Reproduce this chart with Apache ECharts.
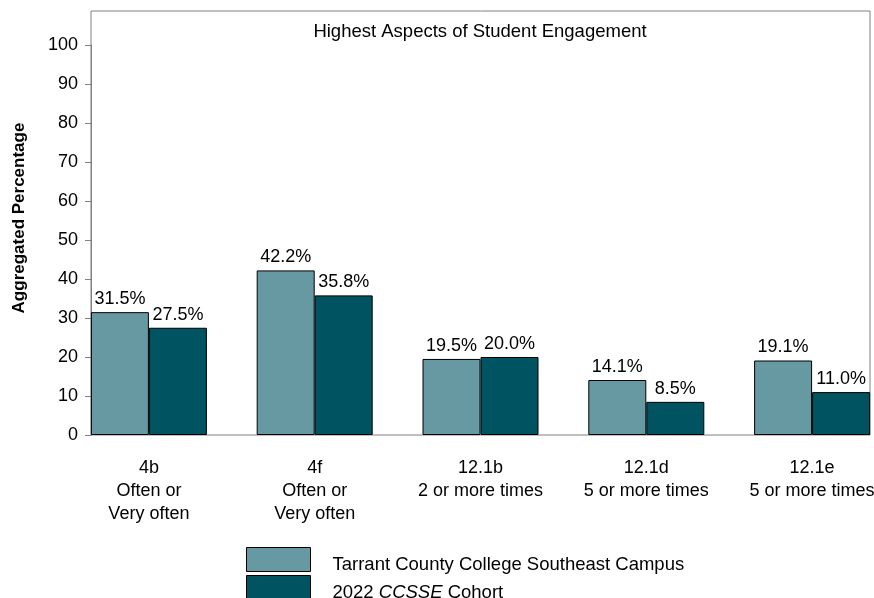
<!DOCTYPE html>
<html>
<head>
<meta charset="utf-8">
<script src="https://cdn.jsdelivr.net/npm/echarts@6/dist/echarts.min.js"></script>
<style>html,body{margin:0;padding:0;background:#fff}#c{width:874px;height:598px}</style>
</head>
<body>
<div id="c"></div>
<script>
var categories = ['4b\nOften or\nVery often', '4f\nOften or\nVery often', '12.1b\n2 or more times', '12.1d\n5 or more times', '12.1e\n5 or more times'];
var collegeValues = [31.5, 42.2, 19.5, 14.1, 19.1];
var cohortValues = [27.5, 35.8, 20.0, 8.5, 11.0];
var seriesNames = ['Tarrant County College Southeast Campus', '2022 CCSSE Cohort'];
var yTicks = [0, 100, 10];

var FONT = '"Liberation Sans", Arial, sans-serif';
var chart = echarts.init(document.getElementById('c'), null, {renderer: 'canvas'});
var labelCfg = {
  show: true, position: 'top', distance: 4, color: '#000', fontSize: 18, fontFamily: FONT,
  formatter: function (p) { return p.value.toFixed(1) + '%'; }
};
chart.setOption({
  animation: false,
  backgroundColor: '#fff',
  title: {
    text: 'Highest Aspects of Student Engagement',
    left: 480, top: 22, textAlign: 'center', padding: 0,
    textStyle: {fontSize: 18.5, fontWeight: 'normal', color: '#000', fontFamily: FONT}
  },
  graphic: [{
    type: 'text', x: 19, y: 218, rotation: Math.PI / 2,
    style: {text: 'Aggregated Percentage', font: 'bold 17px ' + FONT, fill: '#000', align: 'center', verticalAlign: 'middle'}
  }],
  legend: {
    orient: 'vertical', left: 246, top: 547, height: 90, padding: 0,
    itemWidth: 64, itemHeight: 24, itemGap: 1,
    icon: 'rect',
    itemStyle: {borderColor: '#000', borderWidth: 1},
    textStyle: {
      fontSize: 18.5, color: '#000', fontFamily: FONT, padding: [10, 0, 0, 17],
      rich: {
        n: {fontSize: 18.5, color: '#000', fontFamily: FONT},
        i: {fontSize: 18.5, color: '#000', fontFamily: FONT, fontStyle: 'italic'}
      }
    },
    formatter: function (name) {
      if (name.indexOf('CCSSE') >= 0) {
        return '{n|2022 }{i|CCSSE}{n| Cohort}';
      }
      return '{n|' + name + '}';
    },
    data: seriesNames
  },
  grid: [
    {left: 66, top: 45, width: 829, height: 390, containLabel: false, outerBoundsMode: 'none'},
    {left: 91, top: 11, width: 779, height: 424, show: true, borderColor: '#808080', borderWidth: 1, backgroundColor: 'transparent', z: 0, outerBoundsMode: 'none'}
  ],
  xAxis: [
    {
      type: 'category', gridIndex: 0, data: categories,
      axisLine: {show: false}, axisTick: {show: false},
      axisLabel: {color: '#000', fontSize: 18, fontFamily: FONT, lineHeight: 23, margin: 22, interval: 0}
    },
    {type: 'value', gridIndex: 1, show: false, min: 0, max: 1}
  ],
  yAxis: [
    {
      type: 'value', gridIndex: 0, min: yTicks[0], max: yTicks[1], interval: yTicks[2], offset: -25,
      axisLine: {show: true, lineStyle: {color: '#808080', width: 1}},
      axisTick: {show: true, length: 6, lineStyle: {color: '#808080'}},
      axisLabel: {color: '#000', fontSize: 18, fontFamily: FONT, margin: 13},
      splitLine: {show: false}
    },
    {type: 'value', gridIndex: 1, show: false, min: 0, max: 1}
  ],
  series: [
    {
      name: seriesNames[0], type: 'bar', xAxisIndex: 0, yAxisIndex: 0, data: collegeValues,
      barWidth: 58, barGap: '0%', z: 3,
      itemStyle: {color: '#6699A2', borderColor: '#000', borderWidth: 1},
      label: labelCfg
    },
    {
      name: seriesNames[1], type: 'bar', xAxisIndex: 0, yAxisIndex: 0, data: cohortValues,
      barWidth: 58, barGap: '0%', z: 3,
      itemStyle: {color: '#005462', borderColor: '#000', borderWidth: 1},
      label: labelCfg
    }
  ]
});
</script>
</body>
</html>
